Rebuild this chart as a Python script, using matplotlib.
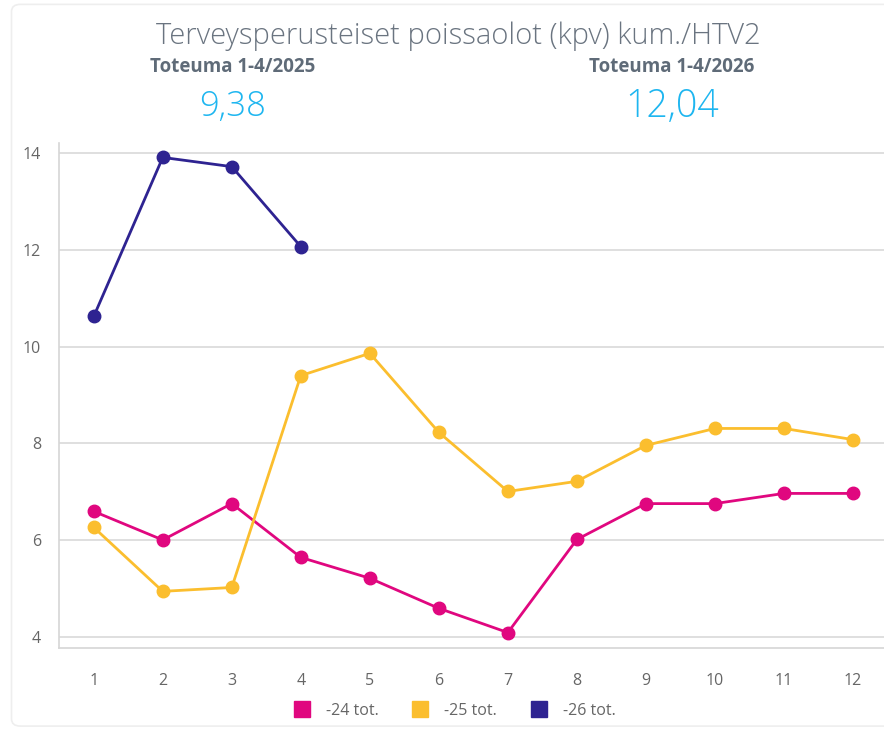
import matplotlib.pyplot as plt
from matplotlib.patches import FancyBboxPatch
from matplotlib.lines import Line2D

months = [1, 2, 3, 4, 5, 6, 7, 8, 9, 10, 11, 12]
tot_24 = [6.60, 6.01, 6.76, 5.65, 5.22, 4.60, 4.10, 6.02, 6.76, 6.76, 6.97, 6.97]
tot_25 = [6.27, 4.95, 5.03, 9.40, 9.86, 8.23, 7.01, 7.22, 7.96, 8.31, 8.31, 8.08]
tot_26 = [10.62, 13.90, 13.71, 12.06]
labels = ["-24 tot.", "-25 tot.", "-26 tot."]
colors = ["#E0077F", "#FBBE2E", "#2E2391"]

title = "Terveysperusteiset poissaolot (kpv) kum./HTV2"
kpi_titles = ["Toteuma 1-4/2025", "Toteuma 1-4/2026"]
kpi_values = ["9,38", "12,04"]

plt.rcParams['font.family'] = ['Open Sans', 'DejaVu Sans']

fig = plt.figure(figsize=(8.84, 7.29), dpi=100)

# light card border, runs off the right edge like the screenshot
fig.patches.append(FancyBboxPatch((0.013, 0.004), 1.05, 0.99, boxstyle="round,pad=0,rounding_size=0.01",
                                  transform=fig.transFigure, fill=False, ec="#eeeeee", lw=1.2))

fig.text(0.518, 0.950, title, ha="center", va="center", fontsize=21, color="#6a7480", fontweight="light")
kpi_x = [0.263, 0.760]
for x, t, v, fs in zip(kpi_x, kpi_titles, kpi_values, [25, 27]):
    fig.text(x, 0.908, t, ha="center", va="center", fontsize=13.5, color="#5f6b78", fontweight="bold")
    fig.text(x, 0.853, v, ha="center", va="center", fontsize=fs, color="#1EB6F0", fontweight="light")

ax = fig.add_axes([0.067, 0.111, 0.933, 0.693])
series = [tot_24, tot_25, tot_26]
for vals, c in zip(series, colors):
    ax.plot(months[:len(vals)], vals, color=c, lw=2, marker="o", ms=9, zorder=3)

ax.set_xlim(0.5, 12.45)
ax.set_ylim(3.78, 14.2)
ax.set_xticks(months)
ax.set_yticks([4, 6, 8, 10, 12, 14])
ax.grid(axis="y", color="#d9d9d9", lw=1.2)
for s in ["top", "right"]:
    ax.spines[s].set_visible(False)
for s in ["left", "bottom"]:
    ax.spines[s].set_color("#d6d6d6")
    ax.spines[s].set_linewidth(1.2)
ax.tick_params(length=0, labelsize=11.5, labelcolor="#666666")
ax.tick_params(axis="x", pad=18)
ax.tick_params(axis="y", pad=13)

handles = [Line2D([], [], color=c, marker="s", ls="none", ms=11) for c in colors]
fig.legend(handles, labels, loc="center", bbox_to_anchor=(0.51, 0.025), ncol=3, frameon=False,
           fontsize=11.5, labelcolor="#666666", handletextpad=0.5, columnspacing=1.6)

fig.savefig("out.png", dpi=100)
